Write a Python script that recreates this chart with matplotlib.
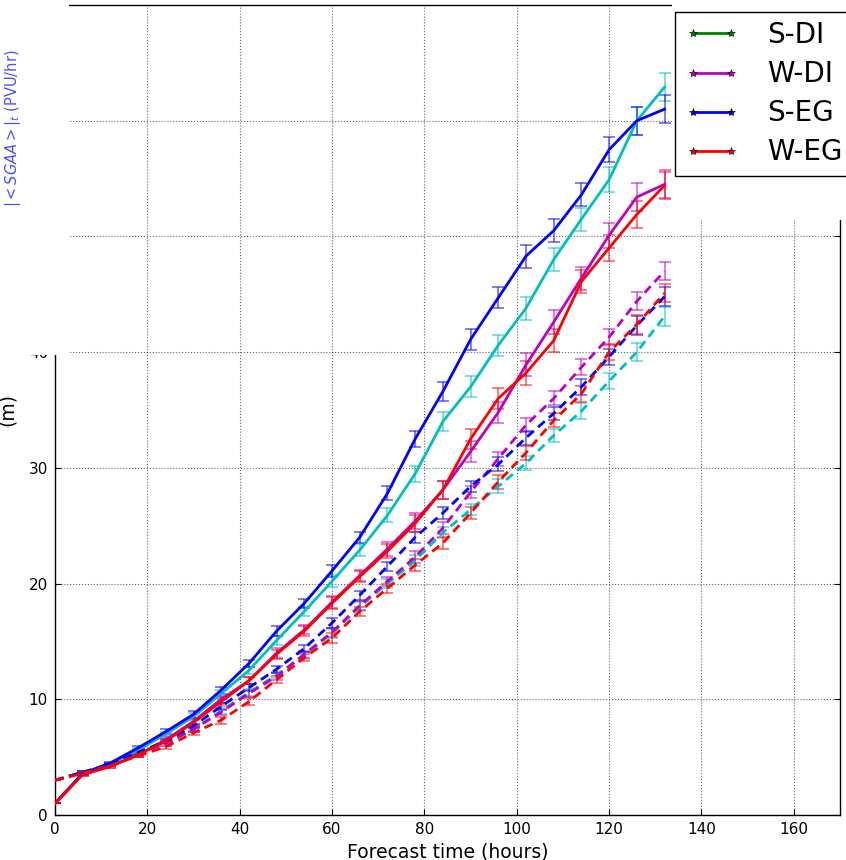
"""Forecast error growth: solid = one metric, dashed = the other, with error bars."""
import matplotlib
matplotlib.use("Agg")
import matplotlib.pyplot as plt
from matplotlib.lines import Line2D
from matplotlib.patches import Rectangle

# forecast lead times (hours)
hours = [0, 6, 12, 18, 24, 30, 36, 42, 48, 54, 60, 66, 72, 78, 84, 90, 96, 102, 108, 114, 120, 126, 132]

# solid curves (m)
s_di_solid = [1.0, 3.6, 4.4, 5.6, 7.0, 8.5, 10.5, 12.5, 15.1, 17.6, 20.2, 22.9, 25.9, 29.5, 34.0, 37.0, 40.6, 43.8, 48.0, 51.5, 54.9, 60.0, 62.9]
w_di_solid = [1.0, 3.5, 4.2, 5.2, 6.5, 8.1, 10.0, 11.6, 14.0, 16.0, 18.4, 20.7, 23.0, 25.4, 28.1, 31.4, 34.8, 38.9, 42.6, 46.4, 50.1, 53.4, 54.5]
s_eg_solid = [1.0, 3.6, 4.5, 5.8, 7.2, 8.7, 10.8, 13.1, 15.9, 18.3, 21.1, 24.0, 27.8, 32.5, 36.6, 41.1, 44.7, 48.3, 50.5, 53.6, 57.5, 60.0, 61.0]
w_eg_solid = [1.0, 3.5, 4.2, 5.2, 6.4, 8.0, 9.8, 11.6, 13.9, 15.9, 18.3, 20.6, 22.8, 25.2, 28.1, 32.5, 36.0, 38.2, 41.0, 46.1, 49.0, 51.9, 54.4]

# dashed curves (m)
s_di_dash = [3.0, 3.7, 4.3, 5.3, 6.2, 7.4, 9.0, 10.6, 12.1, 13.8, 15.7, 18.0, 20.0, 22.0, 24.4, 26.4, 28.4, 30.4, 32.8, 34.9, 37.5, 40.0, 43.1]
w_di_dash = [3.0, 3.7, 4.3, 5.3, 6.2, 7.4, 8.9, 10.5, 12.0, 13.9, 15.8, 18.1, 20.2, 22.3, 24.8, 27.9, 30.8, 33.7, 36.0, 38.7, 41.3, 44.4, 47.0]
s_eg_dash = [3.0, 3.7, 4.4, 5.4, 6.4, 7.7, 9.4, 11.0, 12.6, 14.4, 16.6, 19.0, 21.5, 24.0, 26.1, 28.4, 30.3, 32.6, 34.7, 37.0, 39.6, 42.3, 44.8]
w_eg_dash = [3.0, 3.6, 4.3, 5.1, 5.9, 7.1, 8.2, 9.8, 11.7, 13.6, 15.3, 17.6, 19.6, 21.6, 23.5, 26.1, 28.8, 31.3, 34.1, 36.4, 40.0, 42.4, 45.1]

# error bar half-widths
err_solid = [0.0, 0.1, 0.1, 0.2, 0.2, 0.3, 0.3, 0.3, 0.4, 0.4, 0.5, 0.5, 0.6, 0.7, 0.8, 0.9, 0.9, 1.0, 1.0, 1.0, 1.1, 1.2, 1.2]
err_dash = [0.0, 0.1, 0.1, 0.1, 0.2, 0.2, 0.3, 0.3, 0.3, 0.3, 0.4, 0.4, 0.4, 0.5, 0.5, 0.5, 0.6, 0.6, 0.6, 0.7, 0.7, 0.8, 0.8]

labels = ["S-DI", "W-DI", "S-EG", "W-EG"]
line_colors = ["c", "m", "b", "r"]
legend_colors = ["g", "m", "b", "r"]
solids = [s_di_solid, w_di_solid, s_eg_solid, w_eg_solid]
dashes = [s_di_dash, w_di_dash, s_eg_dash, w_eg_dash]

fig = plt.figure(figsize=(8.46, 8.6), dpi=100)
ax = fig.add_axes([55 / 846, 45 / 860, 785 / 846, 810 / 860])

for col, ys, yd in zip(line_colors, solids, dashes):
    ax.plot(hours, ys, color=col, lw=2.0, zorder=3)
    ax.errorbar(hours, ys, yerr=err_solid, fmt="none", ecolor=col, alpha=0.55,
                elinewidth=1.3, capsize=4.5, capthick=1.3, zorder=2)
    ax.plot(hours, yd, color=col, lw=2.0, dashes=(3.2, 2.0), zorder=3)
    ax.errorbar(hours, yd, yerr=err_dash, fmt="none", ecolor=col, alpha=0.55,
                elinewidth=1.3, capsize=4.5, capthick=1.3, zorder=2)

ax.set_xlim(0, 170)
ax.set_ylim(0, 70)
ax.set_xticks(range(0, 161, 20))
ax.set_yticks(range(0, 71, 10))
ax.grid(True, color="k", linestyle=":", linewidth=0.8, alpha=0.6)
ax.tick_params(direction="in", labelsize=11, pad=5, right=True, length=4)
for sp in ax.spines.values():
    sp.set_linewidth(1.0)

ax.set_xlabel("Forecast time (hours)", fontsize=13.5)
ax.set_ylabel("(m)", fontsize=13.5)
ax.yaxis.set_label_coords(-0.048, 0.5)

# blank regions of the original figure (upper left / upper right)
fig.patches.append(Rectangle((0, 505 / 860), 69 / 846, 355 / 860, transform=fig.transFigure,
                             facecolor="white", edgecolor="none", zorder=5))
fig.patches.append(Rectangle((672 / 846, 640 / 860), 174 / 846, 220 / 860, transform=fig.transFigure,
                             facecolor="white", edgecolor="none", zorder=5))

fig.text(13 / 846, 1 - 128 / 860, r"$|<SGAA>|_t$ (PVU/hr)", rotation=90, color="b", alpha=0.7,
         fontsize=10.5, ha="center", va="center", zorder=10)

handles = [Line2D([], [], color=c, lw=2.0, marker="*", markersize=6, markeredgecolor="k",
                  markeredgewidth=0.4) for c in legend_colors]
leg = fig.legend(handles, labels, loc="upper left", bbox_to_anchor=(675 / 846, 1 - 12 / 860),
                 fontsize=20, numpoints=2, fancybox=False, framealpha=1, borderaxespad=0,
                 handlelength=2.0, handletextpad=1.0, labelspacing=0.4, borderpad=0.33)
leg.get_frame().set_edgecolor("k")
leg.set_zorder(10)

fig.savefig("out.png", dpi=100)
